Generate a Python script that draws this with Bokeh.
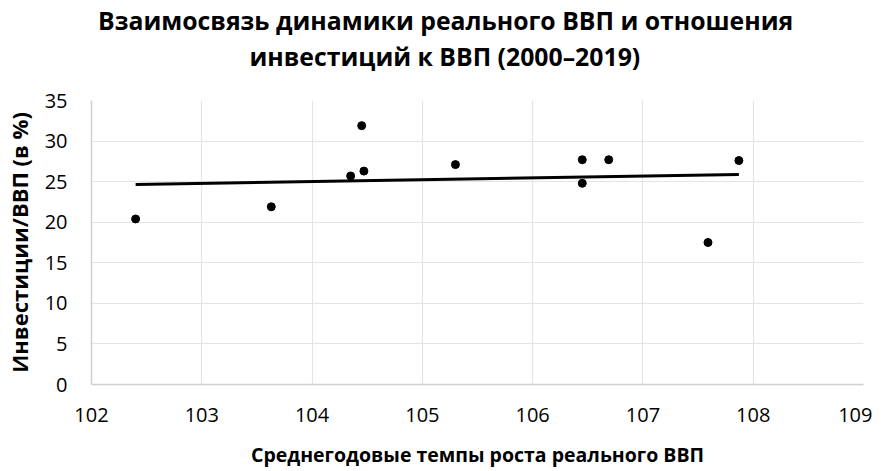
import numpy as np
from bokeh.plotting import figure
from bokeh.models import Title, Range1d, FixedTicker
from bokeh.embed import file_html
from bokeh.resources import INLINE

# Data
gdp_growth = [102.40, 103.63, 104.35, 104.47, 104.45, 105.30, 106.45, 106.45, 106.69, 107.59, 107.87]
invest_share = [20.4, 21.9, 25.7, 26.3, 31.9, 27.1, 27.7, 24.8, 27.7, 17.5, 27.6]

x_ticks = [102, 103, 104, 105, 106, 107, 108, 109]
y_ticks = [0, 5, 10, 15, 20, 25, 30, 35]

title_line1 = "Взаимосвязь динамики реального ВВП и отношения"
title_line2 = "инвестиций к ВВП (2000–2019)"
x_title = "Среднегодовые темпы роста реального ВВП"
y_title = "Инвестиции/ВВП (в %)"

FONT = "Open Sans"

p = figure(frame_width=772, frame_height=284, output_backend="svg", toolbar_location=None,
           x_range=Range1d(102, 109), y_range=Range1d(0, 35),
           min_border_left=87, min_border_right=9, min_border_top=91, min_border_bottom=80)

p.title = None
# spacer between the frame and the title lines
p.add_layout(Title(text=" ", text_font=FONT, text_font_size="10px", standoff=11.5), "above")
p.add_layout(Title(text=title_line2, align="left", offset=158, text_font=FONT,
                   text_font_size="24.8px", text_font_style="bold", text_color="#000000",
                   standoff=0), "above")
p.add_layout(Title(text=title_line1, align="left", offset=6.5, text_font=FONT,
                   text_font_size="24.8px", text_font_style="bold", text_color="#000000",
                   standoff=0), "above")

p.outline_line_color = None
p.background_fill_color = "white"
p.border_fill_color = "white"

for ax in (p.xaxis[0], p.yaxis[0]):
    ax.major_tick_line_color = None
    ax.minor_tick_line_color = None
    ax.major_tick_out = 0
    ax.major_tick_in = 0
    ax.minor_tick_out = 0
    ax.minor_tick_in = 0
    ax.axis_line_color = "#d0d0d0"
    ax.axis_line_width = 1.5
    ax.major_label_text_font = FONT
    ax.major_label_text_font_size = "20px"
    ax.major_label_text_color = "#000000"
    ax.axis_label_text_font = FONT
    ax.axis_label_text_font_style = "bold"
    ax.axis_label_text_color = "#000000"

p.xaxis.axis_label_text_font_size = "19.5px"
p.yaxis.axis_label_text_font_size = "22px"

p.xaxis.ticker = FixedTicker(ticks=x_ticks)
p.yaxis.ticker = FixedTicker(ticks=y_ticks)
p.xaxis.axis_label = x_title
p.yaxis.axis_label = y_title
p.xaxis.major_label_standoff = 23
p.xaxis.axis_label_standoff = 16
p.yaxis.major_label_standoff = 24
p.yaxis.axis_label_standoff = 8

p.xgrid.ticker = FixedTicker(ticks=x_ticks)
p.ygrid.ticker = FixedTicker(ticks=y_ticks)
p.grid.grid_line_color = "#e4e4e4"
p.grid.grid_line_width = 1.2

# Linear trend line from the data
slope, intercept = np.polyfit(gdp_growth, invest_share, 1)
tx = [min(gdp_growth), max(gdp_growth)]
ty = [slope * v + intercept for v in tx]
p.line(tx, ty, line_color="black", line_width=3)

p.scatter(gdp_growth, invest_share, size=8, fill_color="black", line_color="black")

open("out.html", "w").write(file_html(p, INLINE))
